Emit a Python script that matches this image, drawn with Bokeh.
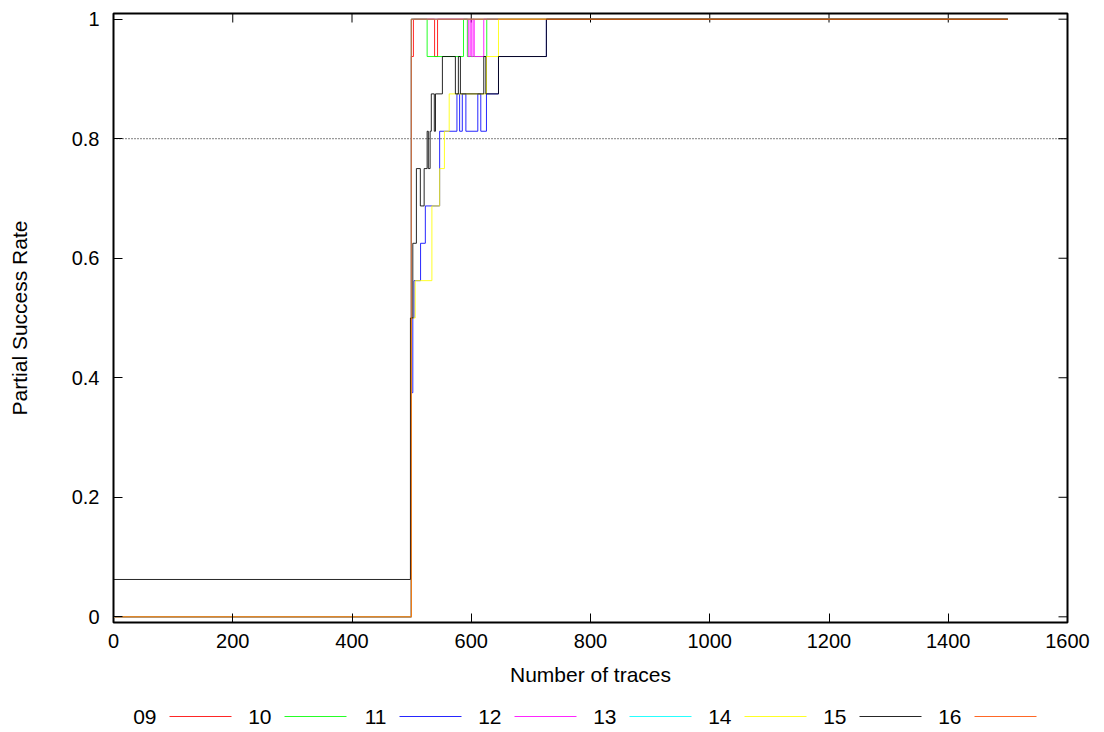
from bokeh.plotting import figure
from bokeh.layouts import column
from bokeh.models import Range1d, FixedTicker, Span
from bokeh.embed import file_html
from bokeh.resources import INLINE

# ---- data -------------------------------------------------------------
x_ticks = [0, 200, 400, 600, 800, 1000, 1200, 1400, 1600]
y_ticks = [0, 0.2, 0.4, 0.6, 0.8, 1]
y_tick_labels = ["0", "0.2", "0.4", "0.6", "0.8", "1"]

series_names = ["09", "10", "11", "12", "13", "14", "15", "16"]
series_colors = ["#ff0000", "#00ff00", "#0000ff", "#ff00ff",
                 "#00ffff", "#ffff00", "#000000", "#ff4d00"]

# step curves: trace count where the rate changes, and the rate from there on
x_09 = [0, 499.5, 503, 538.5, 543.5, 1500]
y_09 = [0, 0.9375, 1, 0.9375, 1, 1]

x_10 = [0, 499.5, 526, 587, 593.5, 626, 1500]
y_10 = [0, 1, 0.9375, 1, 0.9375, 1, 1]

x_11 = [0, 499.5, 502, 504, 515, 523, 547, 576, 580.5, 585, 591, 611, 616,
        625.5, 645.7, 726, 1500]
y_11 = [0, 0.375, 0.5, 0.5625, 0.625, 0.6875, 0.8125, 0.875, 0.8125, 0.875,
        0.8125, 0.875, 0.8125, 0.875, 0.9375, 1, 1]

x_12 = [0, 499.5, 595, 598, 600, 603, 605, 621, 1500]
y_12 = [0, 1, 0.9375, 1, 0.9375, 1, 0.9375, 1, 1]

x_13 = [0, 499.5, 1500]
y_13 = [0, 1, 1]

x_14 = [0, 499.5, 506, 534, 547, 555, 563, 625.5, 645.7, 1500]
y_14 = [0, 0.5, 0.5625, 0.6875, 0.75, 0.8125, 0.875, 0.9375, 1, 1]

x_15 = [0, 498, 502, 508, 514.6, 521, 526, 528, 531, 533, 538, 540, 551.6,
        573.4, 578.4, 581.8, 621, 624.5, 645.7, 726, 1500]
y_15 = [0.0625, 0.5, 0.625, 0.75, 0.6875, 0.75, 0.8125, 0.75, 0.8125, 0.875,
        0.8125, 0.875, 0.9375, 0.875, 0.9375, 0.875, 0.9375, 0.875, 0.9375,
        1, 1]

x_16 = [0, 499.5, 1500]
y_16 = [0, 1, 1]

series_x = [x_09, x_10, x_11, x_12, x_13, x_14, x_15, x_16]
series_y = [y_09, y_10, y_11, y_12, y_13, y_14, y_15, y_16]

FONT = "Liberation Sans"

# ---- frame geometry (pixels) ------------------------------------------
BORDER_L, BORDER_R, BORDER_T, BORDER_B = 113, 37, 13, 78
FIG_W, FIG_H = 1104, 700
FRAME_W = FIG_W - BORDER_L - BORDER_R
FRAME_H = FIG_H - BORDER_T - BORDER_B
TICK_PX = 9

X0, X1 = 0, 1600
Y0, Y1 = -0.0095, 1.0095

# ---- main plot ---------------------------------------------------------
p = figure(width=FIG_W, height=FIG_H,
           x_range=Range1d(X0, X1), y_range=Range1d(Y0, Y1),
           output_backend="svg", toolbar_location=None,
           min_border_left=BORDER_L, min_border_right=BORDER_R,
           min_border_top=BORDER_T, min_border_bottom=BORDER_B,
           x_axis_label="Number of traces",
           y_axis_label="Partial Success Rate")
p.background_fill_color = "white"
p.border_fill_color = "white"
p.outline_line_color = "black"
p.outline_line_width = 2
p.xgrid.visible = False
p.ygrid.visible = False

p.xaxis.ticker = FixedTicker(ticks=x_ticks)
p.yaxis.ticker = FixedTicker(ticks=y_ticks)
p.yaxis.major_label_overrides = {t: s for t, s in zip(y_ticks, y_tick_labels)}

for ax in (p.xaxis[0], p.yaxis[0]):
    ax.axis_line_color = None
    ax.major_tick_in = TICK_PX
    ax.major_tick_out = 0
    ax.major_tick_line_color = "black"
    ax.minor_tick_line_color = None
    ax.major_label_text_font = FONT
    ax.major_label_text_font_size = "20px"
    ax.major_label_text_color = "black"
    ax.axis_label_text_font = FONT
    ax.axis_label_text_font_size = "21px"
    ax.axis_label_text_font_style = "normal"
    ax.axis_label_text_color = "black"

p.xaxis.major_label_standoff = 11
p.xaxis.axis_label_standoff = 12
p.yaxis.major_label_standoff = 14
p.yaxis.axis_label_standoff = 38

# mirrored tick marks along the top and right edges of the frame
dy_tick = TICK_PX * (Y1 - Y0) / FRAME_H
dx_tick = TICK_PX * (X1 - X0) / FRAME_W
p.segment(x0=x_ticks, x1=x_ticks, y0=[Y1] * len(x_ticks),
          y1=[Y1 - dy_tick] * len(x_ticks), line_color="black", line_width=1)
p.segment(x0=[X1] * len(y_ticks), x1=[X1 - dx_tick] * len(y_ticks),
          y0=y_ticks, y1=y_ticks, line_color="black", line_width=1)

# dotted reference at 0.8
p.add_layout(Span(location=0.8, dimension="width", line_color="black",
                  line_dash="1 2", line_width=1, level="underlay"))

for xs, ys, c in zip(series_x, series_y, series_colors):
    p.step(xs, ys, mode="after", line_color=c, line_width=1, line_alpha=0.85)

# ---- key below the plot (label, then line sample) ----------------------
# x range in page pixels across the frame, so the key can be laid out by pixel
leg = figure(width=FIG_W, height=32,
             x_range=Range1d(BORDER_L, FIG_W - BORDER_R),
             y_range=Range1d(0, 32), output_backend="svg",
             toolbar_location=None, min_border=0,
             min_border_left=BORDER_L, min_border_right=BORDER_R,
             x_axis_type=None, y_axis_type=None)
leg.outline_line_color = None
leg.grid.visible = False
leg.background_fill_color = "white"
leg.border_fill_color = "white"

step = 115
text_right = [156 + step * k for k in range(len(series_names))]
line_x0 = [169 + step * k for k in range(len(series_names))]
line_x1 = [231 + step * k for k in range(len(series_names))]
mid = [16] * len(series_names)

leg.text(x=text_right, y=mid, text=series_names, text_align="right",
         text_baseline="middle", text_font_size="21px",
         text_font={"value": FONT}, text_color="black")
leg.segment(x0=line_x0, y0=mid, x1=line_x1, y1=mid,
            line_color=series_colors, line_width=1, line_alpha=0.85)

layout = column(p, leg, spacing=0)
open("out.html", "w").write(file_html(layout, INLINE))
